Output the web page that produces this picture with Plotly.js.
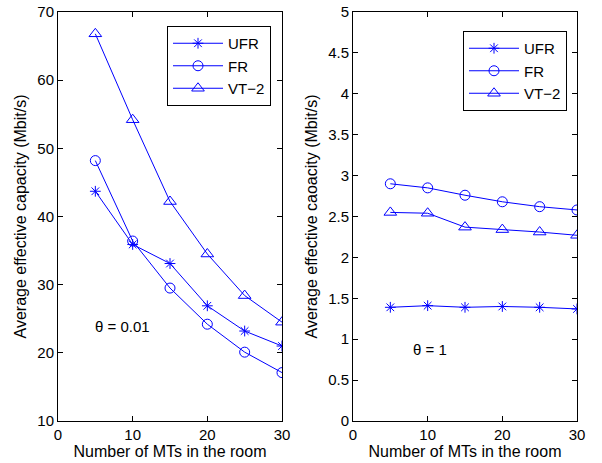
<!DOCTYPE html>
<html><head><meta charset="utf-8">
<script src="https://cdn.plot.ly/plotly-3.0.1.min.js"></script>
<style>html,body{margin:0;padding:0;background:#fff}#chart{width:602px;height:463px}</style>
</head><body><div id="chart"></div>
<script>
const mts = [5, 10, 15, 20, 25, 30];
const ufrLow = [43.7, 35.9, 33.1, 26.9, 23.2, 21.0];
const frLow = [48.2, 36.4, 29.5, 24.2, 20.1, 17.1];
const vtLow = [66.8, 54.2, 42.2, 34.5, 28.4, 24.5];
const ufrHigh = [1.39, 1.41, 1.39, 1.40, 1.39, 1.37];
const frHigh = [2.90, 2.85, 2.76, 2.68, 2.62, 2.58];
const vtHigh = [2.55, 2.54, 2.37, 2.34, 2.31, 2.27];
const seriesNames = ['UFR', 'FR', 'VT\u22122'];
const symbols = ['asterisk-open', 'circle-open', 'triangle-up-open'];

const blue = '#0000ff';
const font = 'Liberation Sans, Arial, sans-serif';
function mk(y, i, xa, ya, leg) {
  return {x: mts, y: y, name: seriesNames[i], type: 'scatter', mode: 'lines+markers',
    xaxis: xa, yaxis: ya, legend: leg,
    line: {color: blue, width: 1},
    marker: {symbol: symbols[i], size: i === 0 ? 9 : (i === 1 ? 10 : 11), color: blue, line: {color: blue, width: 1}}};
}
const data = [
  mk(ufrLow, 0, 'x', 'y', 'legend'), mk(frLow, 1, 'x', 'y', 'legend'), mk(vtLow, 2, 'x', 'y', 'legend'),
  mk(ufrHigh, 0, 'x2', 'y2', 'legend2'), mk(frHigh, 1, 'x2', 'y2', 'legend2'), mk(vtHigh, 2, 'x2', 'y2', 'legend2')
];
const W = 602, H = 463;
const yd = [(H - 421) / H, (H - 12) / H];
const titleFont = {family: font, size: 16, color: '#000'};
const axBase = {showgrid: false, zeroline: false, showline: true, linecolor: '#000', linewidth: 1,
  mirror: 'ticks', ticks: 'inside', ticklen: 5, tickcolor: '#000', tickfont: {family: font, size: 15, color: '#000'}};
const legBase = {bordercolor: '#000', borderwidth: 1, bgcolor: '#fff', font: {family: font, size: 15, color: '#000'},
  xanchor: 'left', yanchor: 'top', itemwidth: 50, tracegroupgap: 0};
const layout = {
  width: W, height: H, margin: {l: 0, r: 0, t: 0, b: 0}, paper_bgcolor: '#fff', plot_bgcolor: '#fff',
  showlegend: true,
  xaxis: Object.assign({}, axBase, {domain: [58 / W, 282 / W], range: [0, 30], dtick: 10, anchor: 'y',
    title: {text: 'Number of MTs in the room', font: titleFont, standoff: 3}}),
  yaxis: Object.assign({}, axBase, {domain: yd, range: [10, 70], dtick: 10, anchor: 'x',
    title: {text: 'Average effective capacity (Mbit/s)', font: titleFont, standoff: 6}}),
  xaxis2: Object.assign({}, axBase, {domain: [353 / W, 577 / W], range: [0, 30], dtick: 10, anchor: 'y2',
    title: {text: 'Number of MTs in the room', font: titleFont, standoff: 3}}),
  yaxis2: Object.assign({}, axBase, {domain: yd, range: [0, 5], dtick: 0.5, anchor: 'x2',
    title: {text: 'Average effective caoacity (Mbit/s)', font: titleFont, standoff: 6}}),
  legend: Object.assign({}, legBase, {x: 167 / W, y: 1 - 26 / H}),
  legend2: Object.assign({}, legBase, {x: 463 / W, y: 1 - 31 / H}),
  annotations: [
    {text: '\u03b8 = 0.01', xref: 'x', yref: 'y', x: 8.64, y: 23.8, showarrow: false, font: {family: font, size: 15, color: '#000'}},
    {text: '\u03b8 = 1', xref: 'x2', yref: 'y2', x: 10.3, y: 0.87, showarrow: false, font: {family: font, size: 15, color: '#000'}}
  ]
};
Plotly.newPlot('chart', data, layout, {displayModeBar: false, staticPlot: true});
</script></body></html>
